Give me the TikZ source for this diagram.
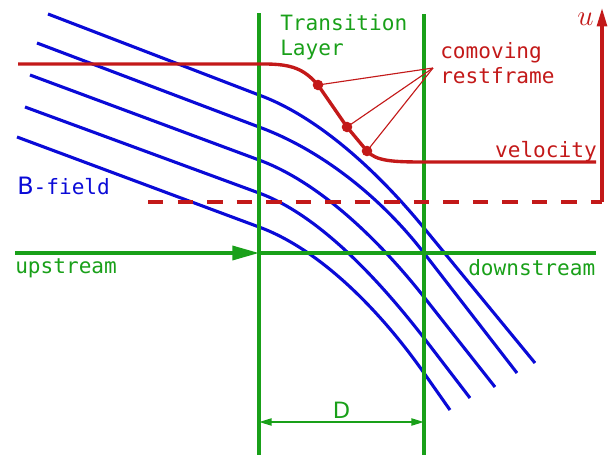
\documentclass[tikz,border=0pt]{standalone}
\usepackage{fontspec}
\usetikzlibrary{arrows.meta, positioning}
\newfontfamily\layermono{DejaVu Sans Mono}
\newfontfamily\layersans{DejaVu Sans}
\definecolor{layergreen}{RGB}{25,160,25}
\definecolor{fieldblue}{RGB}{10,10,215}
\definecolor{flowred}{RGB}{195,25,25}

\tikzset{
  boundary/.style={layergreen, line width=2.4pt},
  fieldline/.style={fieldblue, line width=2.2pt},
  flow/.style={flowred, line width=2.4pt},
  labelfont/.style={font=\layermono\fontsize{15}{17.7}\selectfont, inner sep=0pt},
  greentext/.style={labelfont, layergreen},
  redtext/.style={labelfont, flowred},
  framedot/.style={circle, fill=flowred, inner sep=0pt, minimum size=7.5pt},
}

\begin{document}
\begin{tikzpicture}[>=Stealth, x=0.025cm, y=-0.025cm]
  \useasboundingbox (0,0) rectangle (614,455);

  % B-field lines: straight, bent inside the layer, straight again
  \foreach \sx/\sy/\ay/\cy/\by/\ex/\ey in {48/14/95/173/228/535/363,
      37/43/127/195/253/517/373, 30/75/160/240/297/495/387,
      25/107/193/280/338/470/398, 17/137/227/309/373/450/410} {
    \draw[fieldline] (\sx,\sy) -- (259,\ay)
      .. controls (319,\ay+22) and (379,\cy) .. (424,\by) -- (\ex,\ey);
  }
  \node[fieldblue, anchor=base west, inner sep=0pt] (bfield) at (17,194)
    {{\layersans\fontsize{17}{20}\selectfont B}{\layermono\fontsize{15}{18}\selectfont -field}};

  % transition layer boundaries
  \coordinate (LT) at (259,13);
  \coordinate (LB) at (259,455);
  \coordinate (RT) at (424,14);
  \coordinate (RB) at (424,455);
  \draw[boundary] (LT) -- (LB);
  \draw[boundary] (RT) -- (RB);
  \node[greentext, anchor=base west, align=left] (layer) at (280,55)
    {Transition\\Layer};

  % flow direction
  \coordinate (upstart) at (15,253);
  \coordinate (shock) at (259,253);
  \coordinate (downend) at (596,253);
  \draw[boundary, -{Triangle[length=19pt, width=10pt]}] (upstart) -- (shock);
  \draw[boundary] (shock) -- (downend);
  \node[greentext, anchor=base west] (up) at (15,273) {upstream};
  \node[greentext, anchor=base west] (down) at (468,275) {downstream};

  % thickness D
  \coordinate (dl) at (259,422);
  \coordinate (dr) at (424,422);
  \coordinate (dmid) at (341.5,422);
  \draw[layergreen, line width=1.4pt,
        {Triangle[length=9pt, width=5pt]}-{Triangle[length=9pt, width=5pt]}] (dl) -- (dr);
  \node[layergreen, above=2pt of dmid, inner sep=0pt,
        font=\layersans\fontsize{16}{19}\selectfont] (dlabel) {D};

  % velocity axis
  \coordinate (zero) at (148,202);
  \coordinate (corner) at (602,202);
  \coordinate (axistop) at (602,8);
  \draw[flowred, line width=2.2pt, dash pattern=on 11pt off 10pt] (zero) -- (corner);
  \draw[flowred, line width=2.2pt, -{Triangle[length=13pt, width=7pt]}] (corner) -- (axistop);
  \node[flowred, anchor=base east, inner sep=0pt, font=\fontsize{20}{24}\selectfont] (u)
    at (594,25) {$u$};

  % velocity profile
  \coordinate (vstart) at (18,64);
  \coordinate (pA) at (318,85);
  \coordinate (pB) at (347,127);
  \coordinate (pC) at (367,151);
  \coordinate (vend) at (596,162);
  \draw[flow] (vstart) -- (264,64) .. controls (292,64) and (304,69) .. (pA)
    -- (pB) -- (pC) .. controls (376,161) and (392,162) .. (424,162) -- (vend);
  \node[redtext, anchor=base east] (vel) at (597,157) {velocity};

  % comoving frames
  \node[framedot] (dotA) at (pA) {};
  \node[framedot] (dotB) at (pB) {};
  \node[framedot] (dotC) at (pC) {};
  \coordinate (tip) at (433,68);
  \foreach \d in {dotA, dotB, dotC}
    \draw[flowred, line width=0.8pt] (tip) -- (\d.center);
  \node[redtext, anchor=base west, align=left] (frame) at (440,83)
    {comoving\\restframe};
\end{tikzpicture}
\end{document}
